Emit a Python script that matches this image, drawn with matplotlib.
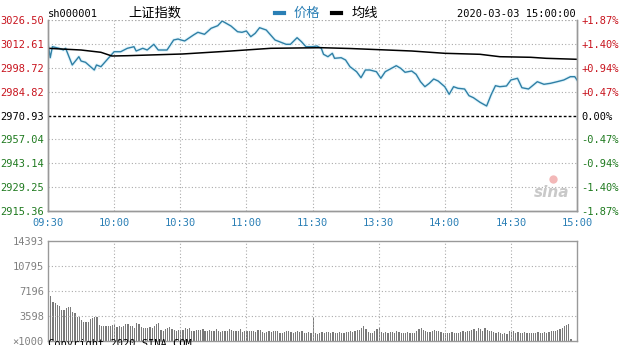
import numpy as np
import matplotlib
matplotlib.use("Agg")
import matplotlib.pyplot as plt

# ---- data ---------------------------------------------------------
prev_close = 2970.93
price_ticks = [2915.36, 2929.25, 2943.14, 2957.04, 2970.93,
               2984.82, 2998.72, 3012.61, 3026.50]
pct_labels = ["-1.87%", "-1.40%", "-0.94%", "-0.47%", "0.00%",
              "+0.47%", "+0.94%", "+1.40%", "+1.87%"]
time_ticks = [0, 30, 60, 90, 120, 150, 180, 210, 240]
time_labels = ["09:30", "10:00", "10:30", "11:00", "11:30",
               "13:30", "14:00", "14:30", "15:00"]
vol_ticks = [3598, 7196, 10795, 14393]

# minute index (trading minutes from 09:30) and price
price_min = [0, 1, 2, 5, 7, 8, 11, 14, 15, 17, 21, 22, 24, 26, 28, 30, 33, 36, 39, 40,
             43, 45, 48, 50, 54, 57, 59, 60, 62, 66, 68, 71, 74, 77, 79, 83, 86, 88, 90, 92,
             94, 96, 99, 101, 103, 105, 108, 110, 113, 115, 117, 120,
             122, 124, 125, 127, 129, 130, 133, 135, 137, 140, 142, 144, 146, 149, 151, 153,
             155, 158, 160, 162, 165, 167, 169, 171, 173, 175, 177, 180, 182, 184, 186, 189,
             191, 193, 196, 199, 201, 203, 205, 208, 210, 213, 215, 218, 222, 225, 228, 231,
             234, 237, 239, 240]
price = [3012.94, 3004.56, 3010.96, 3010.03, 3009.04, 3010.03, 3000.32, 3005.14, 3002.64, 3001.89,
         2997.41, 3000.32, 2999.33, 3002.24, 3005.14, 3008.05, 3008.05, 3010.03, 3010.96, 3008.46,
         3010.03, 3009.04, 3012.36, 3009.04, 3009.04, 3014.86, 3015.44, 3015.00, 3014.30, 3017.77,
         3019.34, 3018.18, 3021.67, 3023.18, 3025.92, 3023.01, 3019.69, 3019.34, 3020.10, 3016.78,
         3018.76, 3022.02, 3020.68, 3017.77, 3014.86, 3013.87, 3012.36, 3012.36, 3016.20, 3013.87,
         3010.96, 3010.96,
         3011.37, 3010.03, 3006.54, 3005.14, 3007.12, 3004.21, 3004.56, 3003.22, 2999.33, 2996.42,
         2992.93, 2997.41, 2997.41, 2996.42, 2992.58, 2996.42, 2997.81, 2999.91, 2998.40, 2996.07,
         2996.82, 2994.90, 2990.60, 2987.69, 2989.67, 2992.17, 2991.01, 2987.69, 2983.27, 2987.69,
         2986.76, 2986.35, 2982.45, 2981.29, 2978.61, 2976.46, 2982.86, 2988.27, 2987.69, 2988.10,
         2991.59, 2992.58, 2987.11, 2986.35, 2990.60, 2989.09, 2989.67, 2990.60, 2991.59, 2993.51,
         2993.51, 2991.59]

avg_min = [0, 15, 24, 29, 36, 46, 61, 83, 101, 124, 137, 165, 180, 196, 205, 219, 226, 240]
avg_price = [3010.03, 3009.04, 3007.71, 3005.55, 3005.73, 3006.13, 3006.72, 3008.46, 3010.03,
             3010.38, 3009.92, 3008.46, 3007.12, 3006.54, 3005.14, 3004.80, 3004.21, 3003.63]

vol_morning = [7800, 6500, 5600, 5500, 5200, 5000, 4500, 4400, 4800, 4900,
               4900, 4200, 4000, 3500, 3400, 3000, 2800, 2800, 2800, 3200,
               3300, 3400, 3400, 2300, 2100, 2200, 2100, 2200, 2100, 2300,
               2300, 2000, 2100, 2000, 2200, 2500, 2400, 2200, 2100, 1900,
               2600, 2400, 2000, 1900, 1900, 1900, 2000, 1800, 2100, 2400,
               2600, 1600, 1500, 1700, 1800, 2000, 1700, 1600, 1500, 1600,
               1600, 1600, 1800, 1700, 1800, 1500, 1500, 1600, 1600, 1600,
               1700, 1500, 1400, 1600, 1400, 1500, 1700, 1500, 1300, 1500,
               1500, 1400, 1700, 1600, 1400, 1400, 1500, 1700, 1300, 1400,
               1500, 1400, 1500, 1400, 1300, 1600, 1600, 1300, 1200, 1300,
               1400, 1300, 1400, 1500, 1500, 1200, 1200, 1300, 1400, 1400,
               1300, 1200, 1300, 1400, 1300, 1500, 1200, 1100, 1300, 1200,
               3300]
vol_afternoon = [1100, 1000, 1200, 1300, 1200, 1300, 1300, 1100, 1300, 1200,
                 1200, 1300, 1100, 1200, 1300, 1300, 1400, 1300, 1500, 1600,
                 1600, 1900, 2200, 1700, 1300, 1200, 1100, 1400, 1700, 1800,
                 1300, 1200, 1300, 1200, 1300, 1300, 1200, 1400, 1300, 1200,
                 1100, 1200, 1300, 1200, 1100, 1200, 1400, 1700, 1800, 1600,
                 1500, 1300, 1300, 1400, 1600, 1500, 1400, 1300, 1200, 1200,
                 1200, 1100, 1300, 1200, 1200, 1100, 1300, 1400, 1300, 1500,
                 1400, 1600, 1700, 1500, 1800, 1700, 1500, 1800, 1600, 1400,
                 1500, 1300, 1200, 1300, 1100, 1000, 1200, 1000, 1500, 1300,
                 1400, 1200, 1300, 1100, 1200, 1300, 1100, 1200, 1200, 1200,
                 1100, 1300, 1200, 1200, 1300, 1200, 1300, 1400, 1500, 1500,
                 1600, 1700, 1900, 2100, 2300, 2500, 300, 0, 0, 0]

# ---- style ----------------------------------------------------------
W, H = 627, 345
RED = "#c8141e"
GREEN = "#1f7a1f"
BLUE = "#2a7fb5"
GRID = dict(color="#aaaaaa", linestyle=(0, (1, 2)), linewidth=0.8)
MONO = "DejaVu Sans Mono"
FS = 7.5

def fx(x):
    return x / W

def fy(y):
    return 1 - y / H

fig = plt.figure(figsize=(W / 100, H / 100), dpi=100)

# ---- price panel ----------------------------------------------------
ax = fig.add_axes([fx(48), fy(211), fx(577) - fx(48), fy(20) - fy(211)])
ax.set_xlim(0, 240)
ax.set_ylim(price_ticks[0], price_ticks[-1])
for p in price_ticks[1:]:
    if p == prev_close:
        ax.axhline(p, color="black", linestyle=(0, (2, 1.5)), linewidth=1.0)
    else:
        ax.axhline(p, **GRID)
for t in time_ticks[1:-1]:
    ax.axvline(t, **GRID)

ax.plot(price_min, price, color="#e2f5fc", linewidth=2.4, solid_joinstyle="round")
ax.plot(price_min, price, color="#2f7fa5", linewidth=1.0)
ax.plot(avg_min, avg_price, color="black", linewidth=1.1)

ax.set_yticks(price_ticks)
ax.set_yticklabels(["%.2f" % p for p in price_ticks], family=MONO, fontsize=FS)
for lab, p in zip(ax.get_yticklabels(), price_ticks):
    lab.set_color(RED if p > prev_close else (GREEN if p < prev_close else "black"))
ax.set_xticks(time_ticks)
ax.set_xticklabels(time_labels, family=MONO, fontsize=FS, color=BLUE)
ax.tick_params(length=0, pad=3)
ax.tick_params(axis="x", pad=5)

ax2 = ax.twinx()
ax2.set_ylim(ax.get_ylim())
ax2.set_yticks(price_ticks)
ax2.set_yticklabels(pct_labels, family=MONO, fontsize=FS)
for lab, p in zip(ax2.get_yticklabels(), price_ticks):
    lab.set_color(RED if p > prev_close else (GREEN if p < prev_close else "black"))
ax2.tick_params(length=0, pad=3)

for a in (ax, ax2):
    a.spines["top"].set_visible(False)
    for s in ("left", "right", "bottom"):
        a.spines[s].set_color("#999999")
        a.spines[s].set_linewidth(1.0)
ax.axhline(price_ticks[-1], **GRID)

# sina watermark
ax.text(0.985, 0.06, "sina", transform=ax.transAxes, ha="right", va="bottom",
        fontsize=11, fontstyle="italic", fontweight="bold", color="#c9c9c9")
ax.plot([0.955], [0.17], transform=ax.transAxes, marker="o", markersize=6,
        color="#f3b8b8", markeredgecolor="none")

# ---- volume panel ---------------------------------------------------
vol = vol_morning + vol_afternoon
vx = np.arange(len(vol))
axv = fig.add_axes([fx(48), fy(341), fx(577) - fx(48), fy(241) - fy(341)])
axv.set_xlim(0, 240)
axv.set_ylim(0, vol_ticks[-1])
for v in vol_ticks[:-1]:
    axv.axhline(v, **GRID)
for t in time_ticks[1:-1]:
    axv.axvline(t, **GRID)
axv.bar(vx, vol, width=0.55, color="#7a7a7a", align="edge")
axv.set_xticks([])
axv.set_yticks([0] + vol_ticks)
axv.set_yticklabels(["\u00d71000"] + [str(v) for v in vol_ticks],
                    family=MONO, fontsize=FS, color="#808080")
axv.tick_params(length=0, pad=3)
for s in axv.spines.values():
    s.set_color("#999999")
    s.set_linewidth(1.0)

# ---- header ---------------------------------------------------------
fig.text(fx(48), fy(14), "sh000001", family=MONO, fontsize=FS, va="center", ha="left")
fig.text(fx(128), fy(13), "上证指数", family=["Noto Sans CJK SC", "DejaVu Sans"],
         fontsize=9.5, va="center", ha="left")
fig.lines.append(plt.Line2D([fx(275), fx(284)], [fy(13), fy(13)], color=BLUE,
                            linewidth=3, transform=fig.transFigure))
fig.text(fx(294), fy(13), "价格", family=["Noto Sans CJK SC", "DejaVu Sans"],
         fontsize=9.5, va="center", ha="left", color=BLUE)
fig.lines.append(plt.Line2D([fx(332), fx(341)], [fy(13), fy(13)], color="black",
                            linewidth=3, transform=fig.transFigure))
fig.text(fx(352), fy(13), "均线", family=["Noto Sans CJK SC", "DejaVu Sans"],
         fontsize=9.5, va="center", ha="left")
fig.text(fx(576), fy(14), "2020-03-03 15:00:00", family=MONO, fontsize=FS,
         va="center", ha="right")
fig.text(fx(48), fy(339), "Copyright 2020 SINA.COM", family=MONO, fontsize=FS,
         va="top", ha="left")

fig.savefig("out.png", dpi=100)
